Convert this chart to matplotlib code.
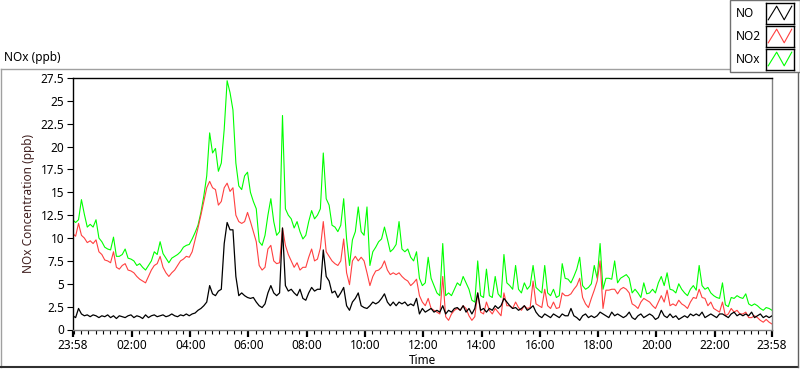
import numpy as np
import matplotlib.pyplot as plt
from matplotlib.lines import Line2D
from matplotlib.patches import Rectangle

plt.rcParams['font.family'] = ['Noto Sans', 'DejaVu Sans']

# minutes since 23:58, one sample every 6 minutes
minutes = np.arange(0, 1441, 6)

no = [
    1.5, 1.3, 2.3, 1.7, 1.5, 1.6, 1.4, 1.6, 1.5, 1.3,
    1.5, 1.4, 1.6, 1.3, 1.5, 1.2, 1.5, 1.4, 1.3, 1.5,
    1.6, 1.3, 1.5, 1.4, 1.2, 1.6, 1.3, 1.5, 1.6, 1.4,
    1.5, 1.6, 1.4, 1.5, 1.7, 1.5, 1.4, 1.6, 1.5, 1.7,
    1.5, 1.7, 1.8, 2.1, 2.3, 2.6, 3.0, 4.8, 3.9, 3.7,
    4.2, 4.4, 9.4, 11.7, 10.9, 10.9, 5.8, 3.7, 4.0, 3.7,
    3.5, 3.4, 3.5, 3.0, 2.6, 2.4, 2.8, 4.0, 4.8, 4.0,
    3.7, 4.0, 11.1, 4.8, 4.2, 4.4, 4.0, 3.7, 4.4, 3.4,
    3.2, 4.0, 4.6, 4.2, 4.4, 4.4, 8.7, 5.8, 5.3, 4.0,
    4.2, 3.5, 4.0, 4.6, 2.6, 2.1, 3.0, 3.4, 4.0, 2.6,
    2.4, 2.3, 2.6, 3.0, 2.8, 3.0, 3.4, 3.9, 3.0, 2.6,
    3.0, 2.6, 3.0, 2.8, 3.0, 2.6, 2.8, 2.6, 3.4, 1.7,
    2.3, 1.9, 2.1, 2.3, 1.9, 2.1, 1.9, 2.6, 1.7, 2.1,
    1.9, 2.3, 2.4, 2.1, 2.6, 1.9, 2.3, 1.7, 2.3, 4.0,
    2.1, 2.3, 1.9, 2.3, 2.1, 2.6, 2.3, 2.6, 3.4, 3.0,
    2.6, 2.3, 2.4, 2.1, 2.3, 2.6, 2.1, 2.3, 2.6, 1.9,
    1.5, 1.3, 1.7, 1.5, 1.3, 1.7, 1.5, 1.3, 1.7, 1.5,
    1.5, 2.3, 1.5, 1.3, 1.0, 1.5, 1.7, 1.3, 1.5, 1.3,
    1.5, 1.9, 1.7, 1.5, 1.3, 1.9, 1.5, 1.7, 1.5, 1.3,
    1.5, 1.9, 1.3, 1.1, 1.5, 1.7, 1.3, 1.5, 1.7, 1.5,
    1.1, 1.3, 2.1, 1.5, 1.3, 1.7, 1.3, 1.5, 1.1, 1.3,
    1.5, 1.3, 1.7, 1.5, 1.7, 1.5, 1.9, 1.3, 1.5, 1.7,
    1.5, 1.3, 1.7, 1.7, 1.5, 1.3, 1.7, 1.9, 1.5, 1.7,
    1.5, 1.7, 1.5, 1.9, 1.3, 1.5, 1.7, 1.3, 1.5, 1.3,
    1.5,
]

no2 = [
    10.5, 10.2, 11.6, 10.3, 10.0, 9.5, 9.7, 9.4, 9.8, 8.5,
    8.2, 7.6, 7.5, 7.3, 8.5, 6.8, 6.6, 7.0, 7.2, 6.5,
    6.4, 6.2, 5.8, 5.5, 5.3, 5.1, 5.8, 6.5, 7.0, 7.2,
    8.0, 6.8, 6.2, 5.8, 6.2, 6.5, 7.0, 7.5, 7.7, 8.0,
    7.9, 8.5, 9.8, 11.1, 12.5, 14.0, 15.5, 16.2, 15.5, 15.3,
    13.6, 14.0, 15.5, 16.0, 15.1, 15.5, 12.5, 11.8, 11.6, 11.8,
    12.8, 11.8, 10.7, 9.6, 7.0, 6.5, 6.8, 8.8, 9.2, 7.5,
    7.2, 7.3, 11.1, 9.2, 8.2, 7.5, 6.8, 7.3, 6.5, 6.8,
    6.8, 7.9, 8.8, 7.5, 7.7, 8.9, 11.8, 8.5, 8.0, 7.5,
    7.2, 7.0, 7.5, 9.9, 6.2, 4.9, 7.5, 8.0, 7.5, 7.9,
    7.5, 6.2, 4.8, 5.8, 6.4, 6.5, 6.8, 7.5, 6.5, 6.0,
    6.2, 6.0, 6.2, 5.8, 5.5, 5.3, 4.8, 5.1, 5.5, 3.7,
    3.0, 2.6, 3.4, 2.3, 2.1, 1.9, 1.7, 5.8, 1.4, 1.0,
    1.7, 2.1, 2.3, 2.1, 2.6, 2.3, 1.5, 1.0, 1.4, 4.0,
    1.9, 1.7, 3.0, 2.1, 1.7, 2.3, 1.9, 1.5, 4.0, 2.6,
    2.6, 2.3, 3.0, 2.4, 2.1, 2.6, 2.3, 2.4, 5.3, 2.8,
    2.6, 2.4, 4.4, 2.6, 2.3, 3.0, 2.3, 2.4, 4.0, 3.7,
    3.7, 3.9, 4.4, 4.8, 5.6, 3.5, 2.8, 2.4, 3.4, 4.3,
    5.3, 7.5, 2.3, 4.3, 4.3, 4.4, 4.4, 3.9, 4.4, 4.6,
    4.4, 4.0, 2.8, 2.6, 2.3, 3.0, 3.4, 3.2, 3.0, 2.6,
    2.3, 3.0, 3.7, 3.0, 4.3, 2.6, 2.8, 2.6, 3.2, 2.8,
    2.6, 2.3, 3.0, 3.5, 3.4, 4.4, 3.5, 3.4, 2.6, 3.0,
    2.3, 2.1, 1.9, 3.0, 1.5, 1.7, 2.3, 1.9, 2.1, 1.7,
    1.7, 1.9, 1.3, 1.3, 1.5, 1.3, 1.0, 0.8, 1.1, 0.8,
    0.6,
]

nox = [
    12.0, 11.7, 12.0, 14.2, 12.6, 11.2, 11.5, 11.2, 12.0, 10.0,
    9.6, 9.0, 8.8, 8.7, 10.1, 8.0, 8.0, 8.2, 8.8, 7.8,
    7.7, 7.5, 7.0, 7.2, 6.8, 6.5, 7.0, 7.5, 8.5, 8.2,
    9.6, 8.3, 7.8, 7.3, 7.8, 8.0, 8.2, 8.5, 9.0, 9.2,
    9.3, 9.9, 10.6, 11.4, 12.8, 14.6, 16.8, 21.5, 19.3, 19.8,
    17.3, 18.2, 21.9, 27.2, 25.9, 24.0, 18.2, 15.7, 15.3, 16.8,
    17.2, 15.0, 14.0, 13.2, 9.6, 9.2, 10.3, 12.5, 14.3, 11.8,
    10.3, 10.7, 23.4, 13.2, 12.5, 12.1, 11.1, 11.8, 10.7, 9.9,
    10.3, 11.8, 13.0, 12.1, 12.5, 13.2, 19.3, 14.3, 13.6, 11.4,
    11.2, 10.7, 11.4, 14.3, 9.9, 7.0, 9.8, 10.7, 13.4, 10.7,
    10.3, 13.4, 7.0, 8.5, 9.0, 9.6, 9.9, 11.2, 9.9, 8.5,
    8.8, 9.3, 11.8, 8.8, 8.5, 8.8, 7.9, 7.5, 8.5, 5.6,
    4.8, 5.1, 7.9, 5.6, 4.8, 4.0, 3.7, 9.4, 3.7, 4.0,
    3.7, 4.4, 5.1, 4.8, 5.8, 5.1, 4.4, 3.2, 3.0, 7.5,
    3.7, 3.5, 6.6, 3.7, 3.5, 5.8, 3.9, 3.5, 8.2, 5.1,
    4.8, 4.4, 7.0, 4.4, 4.0, 5.1, 4.4, 4.8, 7.0, 4.6,
    4.3, 4.0, 7.0, 4.0, 3.7, 4.4, 3.5, 3.7, 7.2, 5.6,
    5.5, 5.1, 5.8, 6.6, 7.9, 4.8, 4.4, 4.6, 5.0, 7.0,
    5.6, 9.4, 4.4, 5.6, 5.6, 5.5, 7.5, 5.1, 5.6, 5.8,
    6.0, 5.6, 4.0, 4.4, 4.0, 3.5, 5.1, 3.9, 4.0, 4.4,
    4.0, 5.1, 5.8, 4.8, 6.2, 4.4, 4.3, 4.0, 5.0, 4.4,
    4.0, 3.7, 4.4, 4.8, 4.3, 7.0, 4.8, 4.4, 4.6, 4.0,
    3.7, 3.5, 3.4, 5.1, 2.7, 2.5, 3.5, 3.4, 3.7, 3.5,
    3.4, 3.9, 2.8, 2.6, 2.8, 2.6, 2.3, 2.1, 2.4, 2.3,
    2.1,
]

major_ticks = [0, 122, 242, 362, 482, 602, 722, 842, 962, 1082, 1202, 1322, 1440]
major_labels = ['23:58', '02:00', '04:00', '06:00', '08:00', '10:00', '12:00',
                '14:00', '16:00', '18:00', '20:00', '22:00', '23:58']
y_ticks = [0, 2.5, 5, 7.5, 10, 12.5, 15, 17.5, 20, 22.5, 25, 27.5]
y_labels = ['0', '2.5', '5', '7.5', '10', '12.5', '15', '17.5', '20', '22.5', '25', '27.5']

names = ['NO', 'NO2', 'NOx']
colors = ['#000000', '#ff4040', '#00ff00']

W, H = 800, 369
fig = plt.figure(figsize=(8, 3.69), dpi=100)
fig.patch.set_facecolor('white')

# outer panel frame
fig.add_artist(Line2D([0.5 / W, 797.5 / W], [1 - 69 / H, 1 - 69 / H], color='#a0a0a0', lw=1))
fig.add_artist(Line2D([0.5 / W, 0.5 / W], [1 - 69 / H, 1 - 367 / H], color='#a0a0a0', lw=1))
fig.add_artist(Line2D([0, 798 / W], [1 - 367 / H, 1 - 367 / H], color='#303030', lw=1.5))
fig.add_artist(Line2D([797.5 / W, 797.5 / W], [1 - 69 / H, 1 - 367 / H], color='#606060', lw=1))

fig.text(4 / W, 1 - 58 / H, 'NOx (ppb)', fontsize=8.5, va='center', ha='left')

ax = fig.add_axes([72.7 / W, 1 - 329.5 / H, (772 - 72.7) / W, (329.5 - 78) / H])
ax.plot(minutes, no, color=colors[0], lw=0.9, zorder=3)
ax.plot(minutes, no2, color=colors[1], lw=0.8, zorder=2)
ax.plot(minutes, nox, color=colors[2], lw=0.8, zorder=1)

ax.set_xlim(0, 1440)
ax.set_ylim(0, 27.5)
ax.set_xticks(major_ticks)
ax.set_xticklabels(major_labels)
ax.set_xticks(np.arange(2, 1440, 15), minor=True)
ax.set_yticks(y_ticks)
ax.set_yticklabels(y_labels)
ax.tick_params(axis='x', which='major', length=5, width=1.6, labelsize=8.5, pad=2)
ax.tick_params(axis='x', which='minor', length=3, width=0.8)
ax.tick_params(axis='y', length=4, width=0.8, labelsize=8.5, pad=2)
ax.spines['top'].set_color('black')
ax.spines['left'].set_color('black')
ax.spines['bottom'].set_color('#808080')
ax.spines['right'].set_color('#808080')
for s in ax.spines.values():
    s.set_linewidth(1)
ax.set_xlabel('Time', fontsize=8.5, labelpad=1)
ax.set_ylabel('NOx Concentration (ppb)', fontsize=8.5, color='#402020', labelpad=4)

# legend panel, top right
fig.add_artist(Rectangle((730 / W, 1 - 72 / H), 70 / W, 72 / H, transform=fig.transFigure,
                         facecolor='white', edgecolor='#707070', lw=1, zorder=5))
swatch_tops = [3, 26, 49]
for name, c, top in zip(names, colors, swatch_tops):
    fig.text(736 / W, 1 - (top + 10.5) / H, name, fontsize=8.5, va='center', ha='left', zorder=6)
    sw = fig.add_axes([766 / W, 1 - (top + 21) / H, 28 / W, 21 / H], zorder=6)
    sw.plot([0.08, 0.38, 0.65, 0.92], [0.2, 0.85, 0.2, 0.85], color=c, lw=0.8)
    sw.set_xlim(0, 1)
    sw.set_ylim(0, 1)
    sw.set_xticks([])
    sw.set_yticks([])
    for s in sw.spines.values():
        s.set_color('black')
        s.set_linewidth(1)

fig.savefig('out.png', dpi=100)
